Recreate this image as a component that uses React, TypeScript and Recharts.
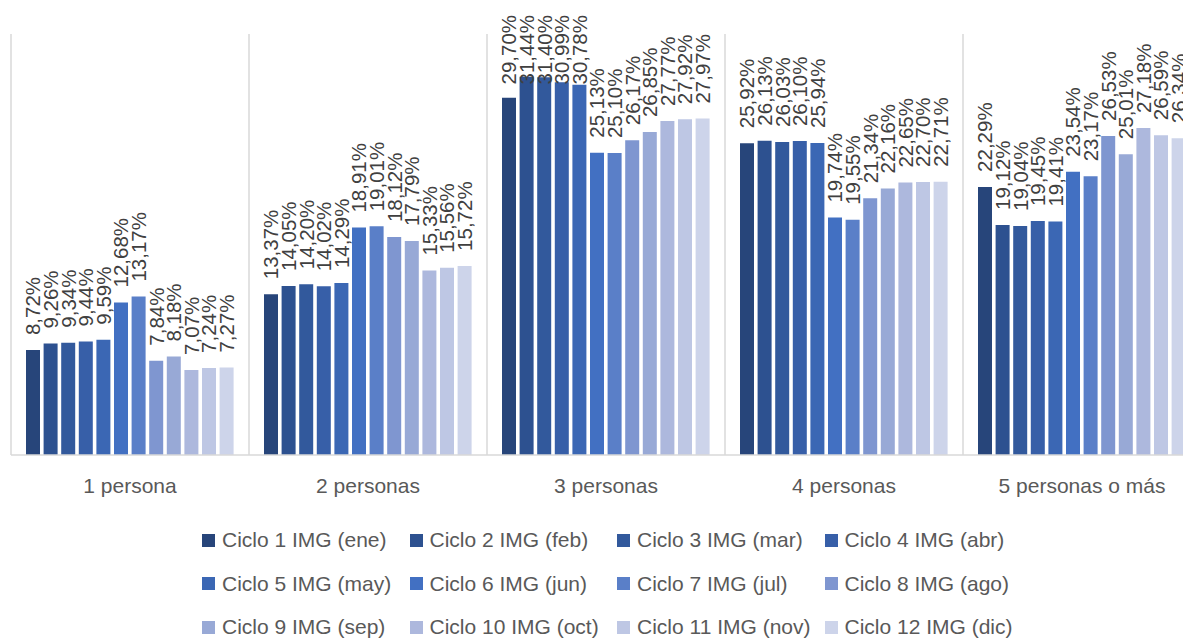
import React from 'react';
import { BarChart, Bar, XAxis, YAxis, CartesianGrid, LabelList } from 'recharts';

const categories = ['1 persona', '2 personas', '3 personas', '4 personas', '5 personas o más'];

const seriesNames = [
  'Ciclo 1 IMG (ene)', 'Ciclo 2 IMG (feb)', 'Ciclo 3 IMG (mar)', 'Ciclo 4 IMG (abr)',
  'Ciclo 5 IMG (may)', 'Ciclo 6 IMG (jun)', 'Ciclo 7 IMG (jul)', 'Ciclo 8 IMG (ago)',
  'Ciclo 9 IMG (sep)', 'Ciclo 10 IMG (oct)', 'Ciclo 11 IMG (nov)', 'Ciclo 12 IMG (dic)',
];

const ciclo1 = [8.72, 13.37, 29.70, 25.92, 22.29];
const ciclo2 = [9.26, 14.05, 31.44, 26.13, 19.12];
const ciclo3 = [9.34, 14.20, 31.40, 26.03, 19.04];
const ciclo4 = [9.44, 14.02, 30.99, 26.10, 19.45];
const ciclo5 = [9.59, 14.29, 30.78, 25.94, 19.41];
const ciclo6 = [12.68, 18.91, 25.13, 19.74, 23.54];
const ciclo7 = [13.17, 19.01, 25.10, 19.55, 23.17];
const ciclo8 = [7.84, 18.12, 26.17, 21.34, 26.53];
const ciclo9 = [8.18, 17.79, 26.85, 22.16, 25.01];
const ciclo10 = [7.07, 15.33, 27.77, 22.65, 27.18];
const ciclo11 = [7.24, 15.56, 27.92, 22.70, 26.59];
const ciclo12 = [7.27, 15.72, 27.97, 22.71, 26.34];

const seriesValues = [ciclo1, ciclo2, ciclo3, ciclo4, ciclo5, ciclo6, ciclo7, ciclo8, ciclo9, ciclo10, ciclo11, ciclo12];

const colors = [
  '#27457a', '#2d5190', '#32599c', '#375fa8', '#3b67b4', '#4270c2',
  '#5a7fc8', '#7f96d0', '#98a9d6', '#adb8dd', '#bec7e4', '#cdd4ea',
];

const data = categories.map((name, ci) => {
  const row: Record<string, any> = { name };
  seriesValues.forEach((vals, si) => {
    row['s' + si] = vals[ci];
  });
  return row;
});

const FONT = '"Liberation Sans", Arial, sans-serif';
const LABEL_SIZE = 20.5;
const LABEL_MIN_TOP = 27; // svg coords: labels stay inside the chart's top

const fmt = (v: number) => v.toFixed(2).replace('.', ',') + '%';

const textLen = (s: string) => {
  let w = 0;
  for (const ch of s) {
    if (ch === ',') w += 0.278;
    else if (ch === '%') w += 0.889;
    else w += 0.556;
  }
  return w * LABEL_SIZE;
};

const VLabel = (props: any) => {
  const { x, y, width, value } = props;
  const s = fmt(value);
  const cx = x + width / 2;
  const ty = Math.max(y - 15, LABEL_MIN_TOP + textLen(s));
  return (
    <text
      x={cx}
      y={ty}
      transform={`rotate(-90, ${cx}, ${ty})`}
      textAnchor="start"
      dominantBaseline="central"
      fontFamily={FONT}
      fontSize={LABEL_SIZE}
      fill="#404040"
    >
      {s}
    </text>
  );
};

const CatTick = (props: any) => {
  const { x, y, payload } = props;
  return (
    <text x={x} y={y + 30} textAnchor="middle" fontFamily={FONT} fontSize={21} fill="#595959">
      {payload.value}
    </text>
  );
};

const gridGen = (p: any) => {
  const { offset } = p;
  const pts: number[] = [];
  for (let i = 0; i <= categories.length; i++) {
    pts.push(offset.left + (i * offset.width) / categories.length);
  }
  return pts;
};

export default function App() {
  return (
    <div style={{ position: 'relative', width: 1183, height: 631, fontFamily: FONT }}>
      <div style={{ position: 'absolute', left: 0, top: -20 }}>
        <BarChart
          width={1183}
          height={520}
          data={data}
          margin={{ top: 46, right: -10, left: 3, bottom: 0 }}
          barGap={3.6}
          barSize={14}
        >
          <CartesianGrid
            horizontal={false}
            stroke="#d9d9d9"
            strokeWidth={1.5}
            verticalCoordinatesGenerator={gridGen}
          />
          <XAxis
            dataKey="name"
            height={53}
            tickLine={false}
            axisLine={{ stroke: '#d9d9d9', strokeWidth: 1.5 }}
            tick={<CatTick />}
            interval={0}
          />
          <YAxis hide domain={[0, 35]} />
          {seriesNames.map((n, i) => (
            <Bar key={n} dataKey={'s' + i} name={n} fill={colors[i]} isAnimationActive={false}>
              <LabelList dataKey={'s' + i} content={<VLabel />} />
            </Bar>
          ))}
        </BarChart>
      </div>
      {seriesNames.map((n, i) => {
        const row = Math.floor(i / 4);
        const col = i % 4;
        const cy = 532 + row * 43.5;
        return (
          <div
            key={n}
            style={{
              position: 'absolute',
              left: 194 + col * 207.5,
              top: cy - 12,
              height: 24,
              display: 'flex',
              alignItems: 'center',
              whiteSpace: 'nowrap',
              fontSize: 21,
              color: '#595959',
              lineHeight: '24px',
            }}
          >
            <span style={{ display: 'inline-block', width: 13, height: 13, background: colors[i], marginRight: 7 }} />
            <span>{n}</span>
          </div>
        );
      })}
    </div>
  );
}
